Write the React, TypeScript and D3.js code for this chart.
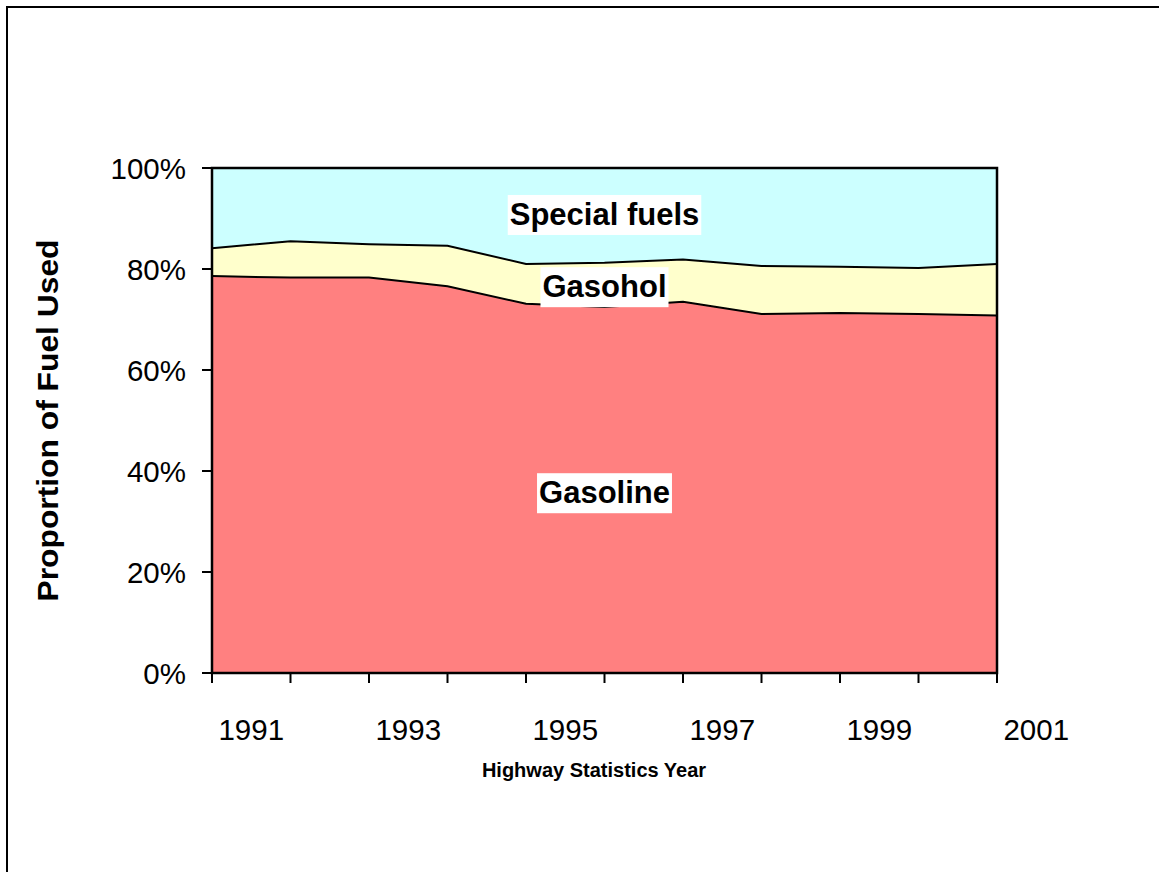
import React, { useEffect, useRef } from 'react';
import * as d3 from 'd3';

// Highway Statistics years
const years: number[] = [1991, 1992, 1993, 1994, 1995, 1996, 1997, 1998, 1999, 2000, 2001];
// Shares of total fuel used (fractions)
const gasoline: number[] = [0.786, 0.783, 0.783, 0.766, 0.731, 0.725, 0.735, 0.711, 0.713, 0.711, 0.708];
const gasohol: number[] = [0.055, 0.072, 0.066, 0.080, 0.079, 0.0875, 0.084, 0.095, 0.0915, 0.091, 0.102];
const specialFuels: number[] = [0.159, 0.145, 0.151, 0.154, 0.190, 0.1875, 0.181, 0.194, 0.1955, 0.198, 0.190];

const seriesNames: string[] = ['Gasoline', 'Gasohol', 'Special fuels'];
const seriesColors: string[] = ['#FF8080', '#FFFFCC', '#CCFFFF'];
const yTicks: number[] = [0, 0.2, 0.4, 0.6, 0.8, 1.0];
const labelYears: number[] = [1991, 1993, 1995, 1997, 1999, 2001];
// in-chart annotation labels, positioned by value on the y-scale
const annotationNames: string[] = ['Special fuels', 'Gasohol', 'Gasoline'];
const annotationValues: number[] = [0.907, 0.764, 0.356];

const FONT = "Arial, 'Liberation Sans', sans-serif";

export default function App() {
  const ref = useRef<SVGSVGElement>(null);

  useEffect(() => {
    const svg = d3.select(ref.current);
    svg.selectAll('*').remove();

    const plot = { left: 212, top: 168, right: 997, bottom: 673 };

    const x = d3.scalePoint<number>().domain(years).range([plot.left, plot.right]);
    const y = d3.scaleLinear().domain([0, 1]).range([plot.bottom, plot.top]);
    const step = x.step();

    // outer frame
    svg.append('rect')
      .attr('x', 7).attr('y', 7).attr('width', 1300).attr('height', 1000)
      .attr('fill', 'white').attr('stroke', 'black').attr('stroke-width', 2);

    const table = years.map((yr, i) => ({
      year: yr,
      Gasoline: gasoline[i],
      Gasohol: gasohol[i],
      'Special fuels': specialFuels[i],
    }));
    const stacked = d3.stack<any>().keys(seriesNames)(table);

    const area = d3.area<any>()
      .x((d) => x(d.data.year) as number)
      .y0((d) => y(d[0]))
      .y1((d) => y(d[1]));

    const line = d3.line<any>()
      .x((d) => x(d.data.year) as number)
      .y((d) => y(d[1]));

    svg.append('g').selectAll('path')
      .data(stacked)
      .join('path')
      .attr('d', (d) => area(d as any) as string)
      .attr('fill', (_d, i) => seriesColors[i])
      .attr('stroke', 'none');

    svg.append('g').selectAll('path')
      .data(stacked.slice(0, 2))
      .join('path')
      .attr('d', (d) => line(d as any) as string)
      .attr('fill', 'none')
      .attr('stroke', 'black')
      .attr('stroke-width', 2);

    // plot area border
    svg.append('rect')
      .attr('x', plot.left).attr('y', plot.top)
      .attr('width', plot.right - plot.left).attr('height', plot.bottom - plot.top)
      .attr('fill', 'none').attr('stroke', 'black').attr('stroke-width', 2.5);

    // y ticks
    const yAxis = svg.append('g');
    yAxis.selectAll('line')
      .data(yTicks)
      .join('line')
      .attr('x1', plot.left - 10).attr('x2', plot.left)
      .attr('y1', (d) => y(d)).attr('y2', (d) => y(d))
      .attr('stroke', 'black').attr('stroke-width', 2);
    yAxis.selectAll('text')
      .data(yTicks)
      .join('text')
      .attr('x', 186)
      .attr('y', (d) => y(d) + 10.5)
      .attr('text-anchor', 'end')
      .attr('font-family', FONT)
      .attr('font-size', 29.5)
      .attr('fill', 'black')
      .text((d) => d3.format('.0%')(d));

    // x ticks
    const xAxis = svg.append('g');
    xAxis.selectAll('line')
      .data(years)
      .join('line')
      .attr('x1', (d) => x(d) as number).attr('x2', (d) => x(d) as number)
      .attr('y1', plot.bottom).attr('y2', plot.bottom + 10)
      .attr('stroke', 'black').attr('stroke-width', 2);
    xAxis.selectAll('text')
      .data(labelYears)
      .join('text')
      .attr('x', (d) => (x(d) as number) + step / 2)
      .attr('y', 740)
      .attr('text-anchor', 'middle')
      .attr('font-family', FONT)
      .attr('font-size', 29.5)
      .attr('fill', 'black')
      .text((d) => String(d));

    // axis titles
    svg.append('text')
      .attr('x', 594).attr('y', 777)
      .attr('text-anchor', 'middle')
      .attr('font-family', FONT)
      .attr('font-size', 20)
      .attr('font-weight', 'bold')
      .text('Highway Statistics Year');

    svg.append('text')
      .attr('transform', `translate(58, ${(plot.top + plot.bottom) / 2}) rotate(-90)`)
      .attr('text-anchor', 'middle')
      .attr('font-family', FONT)
      .attr('font-size', 29)
      .attr('font-weight', 'bold')
      .attr('textLength', 362)
      .attr('lengthAdjust', 'spacingAndGlyphs')
      .text('Proportion of Fuel Used');

    // annotations with white boxes
    const cx = (plot.left + plot.right) / 2;
    annotationNames.forEach((name, i) => {
      const g = svg.append('g');
      const baseline = y(annotationValues[i]) + 10;
      const rect = g.append('rect').attr('fill', 'white');
      const t = g.append('text')
        .attr('x', cx).attr('y', baseline)
        .attr('text-anchor', 'middle')
        .attr('font-family', FONT)
        .attr('font-size', 31)
        .attr('font-weight', 'bold')
        .attr('fill', 'black')
        .text(name);
      const bb = (t.node() as SVGTextElement).getBBox();
      rect.attr('x', bb.x - 2).attr('width', bb.width + 4)
        .attr('y', baseline - 30).attr('height', 40);
    });
  }, []);

  return (
    <svg
      ref={ref}
      width={1159}
      height={872}
      style={{ position: 'absolute', left: 0, top: 0, display: 'block', background: 'white' }}
    />
  );
}
